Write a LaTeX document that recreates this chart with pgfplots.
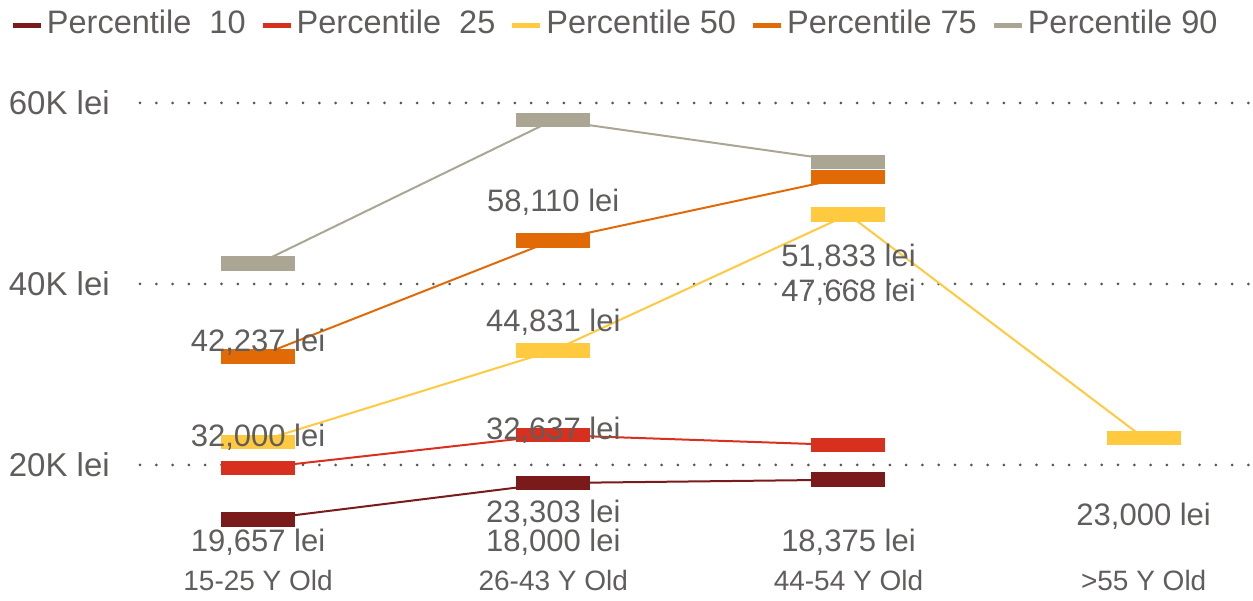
\documentclass[border=0pt]{standalone}
\usepackage{fontspec}
\setmainfont{Liberation Sans}
\usepackage{pgfplots}
\pgfplotsset{compat=1.18}
\definecolor{pten}{HTML}{7A1A1A}
\definecolor{ptwentyfive}{HTML}{D8301E}
\definecolor{pfifty}{HTML}{FFC940}
\definecolor{pseventyfive}{HTML}{E16A06}
\definecolor{pninety}{HTML}{ABA593}
\definecolor{txt}{HTML}{605E5C}
\definecolor{gridc}{HTML}{555555}
\tikzset{lbl/.style={font=\fontsize{31}{37}\selectfont, text=txt, anchor=base, inner sep=0pt, outer sep=0pt}}
\begin{document}
\begin{tikzpicture}
\path[use as bounding box] (0,0) rectangle (1253pt,601pt);
\begin{axis}[
  at={(140pt,36.5pt)}, anchor=south west,
  scale only axis, width=1113pt, height=479.6pt,
  xmin=-0.4, xmax=3.373, ymin=9000, ymax=62000,
  xtick={0,1,2,3},
  xticklabels={15-25 Y Old,26-43 Y Old,44-54 Y Old,>55 Y Old},
  ytick={20000,40000,60000},
  yticklabels={20K lei,40K lei,60K lei},
  scaled y ticks=false,
  axis line style={draw=none}, major tick length=0pt,
  ymajorgrids,
  major grid style={draw=gridc, line width=3pt, dash pattern=on 0pt off 16.3pt, line cap=round},
  xticklabel style={font=\fontsize{28}{34}\selectfont, text=txt, anchor=base, yshift=-26.5pt, inner sep=0pt},
  yticklabel style={font=\fontsize{33}{40}\selectfont, text=txt, anchor=east, inner sep=0pt, xshift=-30pt},
  legend style={at={(-0.1163,1.1300)}, anchor=west, draw=none, fill=none,
    inner sep=0pt, outer sep=0pt, font=\fontsize{32.5}{39}\selectfont, text=txt,
    /tikz/every even column/.append style={column sep=11pt}, nodes={inner sep=3.5pt}},
  legend columns=5,
  legend image code/.code={\draw[#1,line width=5pt] (0pt,-3pt) -- (28pt,-3pt);},
  clip=false,
  every axis plot/.append style={line width=2pt, mark=-, mark size=37pt, mark options={solid, line width=14.5pt}},
]
\addplot[color=pten] coordinates {(0,13950) (1,18000) (2,18375)};
\addlegendentry{Percentile~~10}
\addplot[color=ptwentyfive] coordinates {(0,19657) (1,23303) (2,22180)};
\addlegendentry{Percentile~~25}
\addplot[color=pfifty] coordinates {(0,22560) (1,32637) (2,47668) (3,23000)};
\addlegendentry{Percentile 50}
\addplot[color=pseventyfive] coordinates {(0,32000) (1,44831) (2,51833)};
\addlegendentry{Percentile 75}
\addplot[color=pninety] coordinates {(0,42237) (1,58110) (2,53500)};
\addlegendentry{Percentile 90}
\addplot[draw=none, mark=none, nodes near coords, point meta=explicit symbolic,
  every node near coord/.append style={lbl}]
  table[row sep=\\, col sep=semicolon, x=x, y=y, meta=t] {
x;y;t\\
0;32520;42,237 lei\\
0;22022;32,000 lei\\
0;10400;19,657 lei\\
1;47990;58,110 lei\\
1;34730;44,831 lei\\
1;22763;32,637 lei\\
1;13600;23,303 lei\\
1;10400;18,000 lei\\
2;41912;51,833 lei\\
2;38045;47,668 lei\\
2;10400;18,375 lei\\
3;13300;23,000 lei\\
};
\end{axis}
\end{tikzpicture}
\end{document}
